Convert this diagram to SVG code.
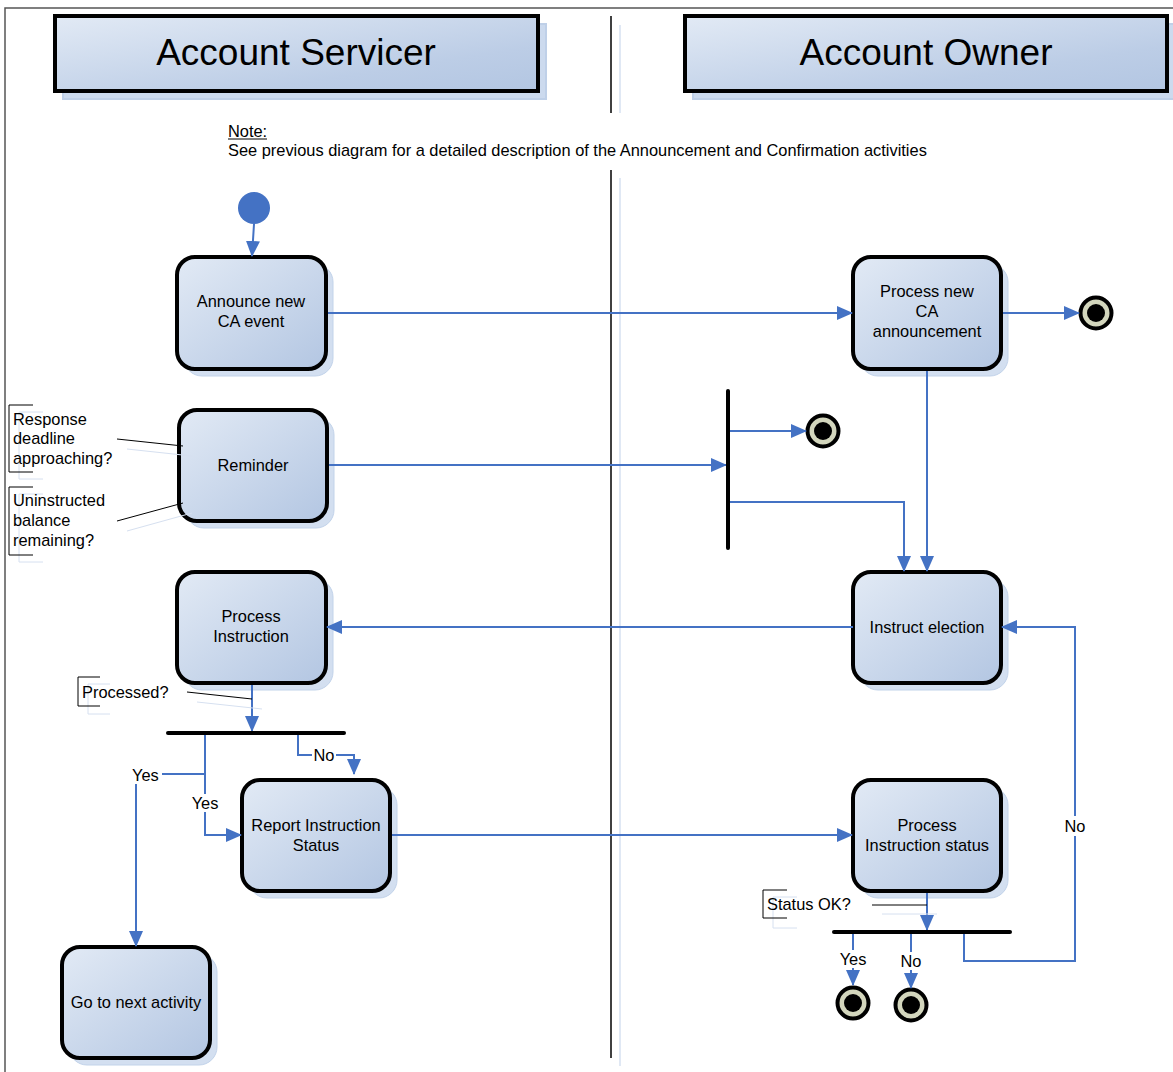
<svg xmlns="http://www.w3.org/2000/svg" width="1173" height="1072" viewBox="0 0 1173 1072">
<defs>
<linearGradient id="g" x1="0" y1="0" x2="1" y2="1">
<stop offset="0" stop-color="#e2eaf5"/>
<stop offset="1" stop-color="#b3c6e2"/>
</linearGradient>
<linearGradient id="gh" x1="0" y1="0" x2="1" y2="1">
<stop offset="0" stop-color="#e2eaf5"/>
<stop offset="0.7" stop-color="#bccde6"/>
<stop offset="1" stop-color="#b3c6e2"/>
</linearGradient>
<marker id="arr" markerUnits="userSpaceOnUse" markerWidth="16" markerHeight="14" refX="15" refY="7" orient="auto">
<path d="M0,0 L16,7 L0,14 Z" fill="#4472c4"/>
</marker>
</defs>
<style>
.node{fill:url(#g);stroke:#000;stroke-width:4}
.shadow{fill:#d3dff0;stroke:#c2d3ea;stroke-width:1}
.t{font-family:"Liberation Sans",Arial,sans-serif;font-size:16.4px;fill:#000;text-anchor:middle}
.tl{font-family:"Liberation Sans",Arial,sans-serif;font-size:16.4px;fill:#000}
.title{font-family:"Liberation Sans",Arial,sans-serif;font-size:37px;fill:#000;text-anchor:middle}
.ca{fill:none;stroke:#4472c4;stroke-width:2;marker-end:url(#arr)}
.bar{stroke:#000;stroke-width:4;stroke-linecap:round}
.ann{fill:none;stroke:#000;stroke-width:1}
.anns{fill:none;stroke:#d6e0f0;stroke-width:1}
.lbl{fill:#fff}
</style>
<rect width="1173" height="1072" fill="#fff"/>
<path d="M5,1072 V8 H1173" fill="none" stroke="#555" stroke-width="1.5"/>

<g id="lane-servicer">
<rect x="63" y="24" width="483" height="75" fill="#ccdaee" stroke="#bfd0e8" stroke-width="2"/>
<rect x="55" y="16" width="483" height="75" fill="url(#gh)" stroke="#000" stroke-width="4"/>
<text class="title" x="296" y="65">Account Servicer</text>
</g>
<g id="lane-owner">
<rect x="693" y="24" width="482" height="75" fill="#ccdaee" stroke="#bfd0e8" stroke-width="2"/>
<rect x="685" y="16" width="482" height="75" fill="url(#gh)" stroke="#000" stroke-width="4"/>
<text class="title" x="926" y="65">Account Owner</text>
</g>
<g id="divider">
<line x1="620" y1="25" x2="620" y2="113" stroke="#d6e1f1" stroke-width="1.5"/>
<line x1="620" y1="178" x2="620" y2="1066" stroke="#d6e1f1" stroke-width="1.5"/>
<line x1="611" y1="16" x2="611" y2="113" stroke="#000" stroke-width="1.5"/>
<line x1="611" y1="170" x2="611" y2="1058" stroke="#000" stroke-width="1.5"/>
</g>
<g id="note">
<text class="tl" x="228" y="137">Note:</text>
<line x1="228" y1="139" x2="267" y2="139" stroke="#000" stroke-width="1"/>
<text class="tl" x="228" y="156">See previous diagram for a detailed description of the Announcement and Confirmation activities</text>
</g>

<g id="start"><circle cx="254" cy="208" r="16" fill="#4472c4"/></g>

<g id="announce">
<rect class="shadow" x="184" y="264" width="149" height="112" rx="18"/>
<rect class="node" x="177" y="257" width="149" height="112" rx="18"/>
<text class="t" x="251" y="307">Announce new</text>
<text class="t" x="251" y="327">CA event</text>
</g>
<g id="process-new">
<rect class="shadow" x="860" y="264" width="148" height="112" rx="18"/>
<rect class="node" x="853" y="257" width="148" height="112" rx="18"/>
<text class="t" x="927" y="297">Process new</text>
<text class="t" x="927" y="317">CA</text>
<text class="t" x="927" y="337">announcement</text>
</g>
<g id="reminder">
<rect class="shadow" x="186" y="417" width="148" height="111" rx="18"/>
<rect class="node" x="179" y="410" width="148" height="111" rx="18"/>
<text class="t" x="253" y="471">Reminder</text>
</g>
<g id="process-instruction">
<rect class="shadow" x="184" y="579" width="149" height="111" rx="18"/>
<rect class="node" x="177" y="572" width="149" height="111" rx="18"/>
<text class="t" x="251" y="622">Process</text>
<text class="t" x="251" y="642">Instruction</text>
</g>
<g id="instruct-election">
<rect class="shadow" x="860" y="579" width="148" height="111" rx="18"/>
<rect class="node" x="853" y="572" width="148" height="111" rx="18"/>
<text class="t" x="927" y="633">Instruct election</text>
</g>
<g id="report-status">
<rect class="shadow" x="249" y="787" width="148" height="111" rx="18"/>
<rect class="node" x="242" y="780" width="148" height="111" rx="18"/>
<text class="t" x="316" y="831">Report Instruction</text>
<text class="t" x="316" y="851">Status</text>
</g>
<g id="process-status">
<rect class="shadow" x="860" y="787" width="148" height="111" rx="18"/>
<rect class="node" x="853" y="780" width="148" height="111" rx="18"/>
<text class="t" x="927" y="831">Process</text>
<text class="t" x="927" y="851">Instruction status</text>
</g>
<g id="next-activity">
<rect class="shadow" x="69" y="954" width="148" height="111" rx="18"/>
<rect class="node" x="62" y="947" width="148" height="111" rx="18"/>
<text class="t" x="136" y="1008">Go to next activity</text>
</g>

<g id="end1"><circle cx="1096" cy="313" r="15.5" fill="#d3d6bd" stroke="#000" stroke-width="4"/><circle cx="1096" cy="313" r="9" fill="#000"/></g>
<g id="end2"><circle cx="823" cy="431" r="15.5" fill="#d3d6bd" stroke="#000" stroke-width="4"/><circle cx="823" cy="431" r="9" fill="#000"/></g>
<g id="end3"><circle cx="853" cy="1003" r="15.5" fill="#d3d6bd" stroke="#000" stroke-width="4"/><circle cx="853" cy="1003" r="9" fill="#000"/></g>
<g id="end4"><circle cx="911" cy="1005" r="15.5" fill="#d3d6bd" stroke="#000" stroke-width="4"/><circle cx="911" cy="1005" r="9" fill="#000"/></g>

<g id="connectors">
<line class="ca" x1="254" y1="224" x2="252" y2="256"/>
<line class="ca" x1="328" y1="313" x2="852" y2="313"/>
<line class="ca" x1="1003" y1="313" x2="1079" y2="313"/>
<line class="ca" x1="927" y1="371" x2="927" y2="571"/>
<line class="ca" x1="329" y1="465" x2="726" y2="465"/>
<line class="ca" x1="728" y1="431" x2="806" y2="431"/>
<path class="ca" d="M728,502 H904 V571"/>
<line class="ca" x1="853" y1="627" x2="327" y2="627"/>
<line class="ca" x1="252" y1="685" x2="252" y2="731"/>
<path class="ca" d="M205,733 V835 H241"/>
<path class="ca" d="M205,774 H136 V946"/>
<path class="ca" d="M298,733 V755 H354 V774"/>
<line class="ca" x1="392" y1="835" x2="852" y2="835"/>
<line class="ca" x1="927" y1="893" x2="927" y2="930"/>
<line class="ca" x1="853" y1="932" x2="853" y2="985"/>
<line class="ca" x1="911" y1="932" x2="911" y2="988"/>
<path class="ca" d="M964,932 V961 H1075 V627 H1002"/>
<rect class="lbl" x="130" y="766" width="32" height="18"/>
<text class="tl" x="132" y="781">Yes</text>
<rect class="lbl" x="190" y="794" width="30" height="18"/>
<text class="t" x="205" y="809">Yes</text>
<rect class="lbl" x="312" y="746" width="24" height="18"/>
<text class="t" x="324" y="761">No</text>
<rect class="lbl" x="838" y="950" width="30" height="18"/>
<text class="t" x="853" y="965">Yes</text>
<rect class="lbl" x="899" y="952" width="24" height="18"/>
<text class="t" x="911" y="967">No</text>
<rect class="lbl" x="1062" y="816" width="26" height="20"/>
<text class="t" x="1075" y="832">No</text>
</g>

<g id="fork1"><line class="bar" x1="728" y1="391" x2="728" y2="548"/></g>
<g id="decision1"><line class="bar" x1="168" y1="733" x2="344" y2="733"/></g>
<g id="decision2"><line class="bar" x1="834" y1="932" x2="1010" y2="932"/></g>

<g id="ann-response">
<path class="anns" d="M43,412 H19 V479 H43"/>
<line class="anns" x1="127" y1="449" x2="192" y2="456"/>
<path class="ann" d="M33,405 H9 V472 H33"/>
<line class="ann" x1="117" y1="439" x2="183" y2="446"/>
<text class="tl" x="13" y="425">Response</text>
<text class="tl" x="13" y="444">deadline</text>
<text class="tl" x="13" y="464">approaching?</text>
</g>
<g id="ann-uninstructed">
<path class="anns" d="M43,494 H19 V562 H43"/>
<line class="anns" x1="127" y1="531" x2="192" y2="513"/>
<path class="ann" d="M33,487 H9 V555 H33"/>
<line class="ann" x1="117" y1="521" x2="183" y2="503"/>
<text class="tl" x="13" y="506">Uninstructed</text>
<text class="tl" x="13" y="526">balance</text>
<text class="tl" x="13" y="546">remaining?</text>
</g>
<g id="ann-processed">
<path class="anns" d="M110,684 H88 V714 H110"/>
<line class="anns" x1="197" y1="702" x2="262" y2="709"/>
<path class="ann" d="M100,677 H78 V706 H100"/>
<line class="ann" x1="187" y1="692" x2="252" y2="699"/>
<text class="tl" x="82" y="698">Processed?</text>
</g>
<g id="ann-status">
<path class="anns" d="M797,897 H773 V928 H797"/>
<line class="anns" x1="882" y1="914" x2="937" y2="914"/>
<path class="ann" d="M787,890 H763 V918 H787"/>
<line class="ann" x1="872" y1="905" x2="927" y2="905"/>
<text class="tl" x="767" y="910">Status OK?</text>
</g>
</svg>
